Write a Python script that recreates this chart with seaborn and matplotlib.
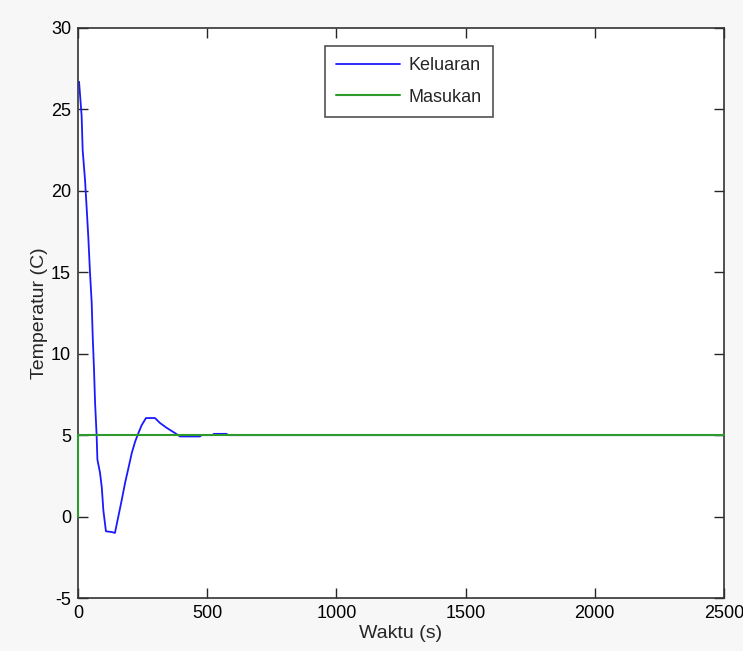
import matplotlib
matplotlib.use("Agg")
import matplotlib.pyplot as plt
import seaborn as sns
import pandas as pd

# Keluaran (output) response
waktu_keluaran = [4, 14, 18, 27, 34, 40, 46, 53, 57, 62, 66, 72, 75, 85, 92, 98, 108,
                  130, 143, 156, 169, 182, 194, 208, 221, 233, 246, 263, 298, 317, 343,
                  375, 395, 472, 478, 520, 526, 575, 580, 2500]
temp_keluaran = [26.7, 24.6, 22.5, 20.7, 18.8, 17.1, 15.1, 13.1, 11.0, 9.0, 7.0, 5.0,
                 3.5, 2.7, 1.8, 0.4, -0.9, -0.95, -1.0, 0.0, 1.0, 2.06, 2.9, 3.9, 4.6,
                 5.1, 5.6, 6.05, 6.05, 5.75, 5.45, 5.13, 4.92, 4.92, 5.0, 5.0, 5.08,
                 5.08, 5.0, 5.0]

# Masukan (input) step
waktu_masukan = [0, 0, 2500]
temp_masukan = [0, 5, 5]

x_ticks = [0, 500, 1000, 1500, 2000, 2500]
y_ticks = [-5, 0, 5, 10, 15, 20, 25, 30]

sns.set_theme(style="white")
plt.rcParams['font.family'] = ['Liberation Sans', 'DejaVu Sans']
plt.rcParams['axes.unicode_minus'] = False

fig = plt.figure(figsize=(7.43, 6.51), dpi=100, facecolor="#f7f7f7")
ax = fig.add_axes([0.105, 0.0814, 0.8694, 0.8756])
ax.set_facecolor("white")

df_k = pd.DataFrame({"Waktu": waktu_keluaran, "Temp": temp_keluaran})
df_m = pd.DataFrame({"Waktu": waktu_masukan, "Temp": temp_masukan})

sns.lineplot(data=df_k, x="Waktu", y="Temp", ax=ax, color="#1a1aff", lw=1.3,
             label="Keluaran", sort=False, estimator=None)
sns.lineplot(data=df_m, x="Waktu", y="Temp", ax=ax, color="#2e9a2e", lw=1.5,
             label="Masukan", sort=False, estimator=None, zorder=5)
for ln in ax.get_lines()[1:]:
    ln.set_clip_on(False)

ax.set_xlim(0, 2500)
ax.set_ylim(-5, 30)
ax.set_xticks(x_ticks)
ax.set_yticks(y_ticks)
ax.tick_params(direction="in", length=7, width=1, colors="#262626",
               labelsize=13, top=True, right=True, bottom=True, left=True,
               labelcolor="black", pad=5)
for s in ax.spines.values():
    s.set_color("#333333")
    s.set_linewidth(1.2)
    s.set_zorder(2)
ax.set_xlabel("Waktu (s)", fontsize=14, labelpad=2)
ax.set_ylabel("Temperatur (C)", fontsize=14, labelpad=2)

leg = ax.legend(loc="upper center", bbox_to_anchor=(0.5125, 0.985), fontsize=13,
                frameon=True, fancybox=False, edgecolor="#262626",
                handlelength=3.5, handletextpad=0.5, borderpad=0.65,
                labelspacing=0.8)
leg.get_frame().set_linewidth(1.2)
leg.set_zorder(6)

fig.savefig("out.png", dpi=100, facecolor=fig.get_facecolor())
